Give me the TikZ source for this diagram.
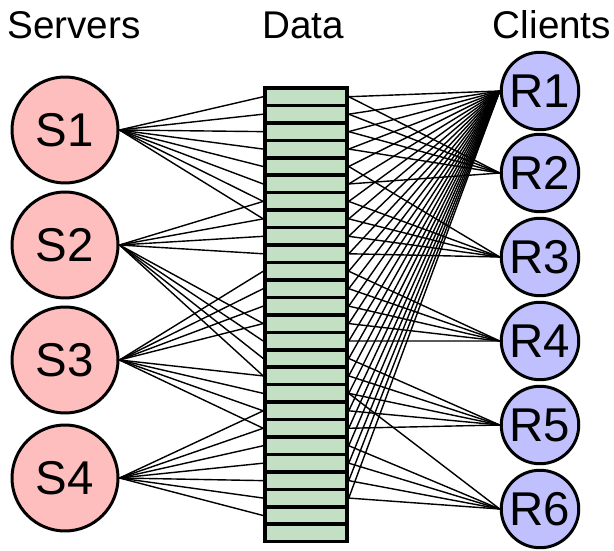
\documentclass[tikz,border=0pt]{standalone}
\usepackage{fontspec}
\setmainfont{Liberation Sans}
\definecolor{serverfill}{RGB}{255,190,190}
\definecolor{clientfill}{RGB}{192,192,255}
\definecolor{datafill}{RGB}{196,224,196}
\begin{document}
\begin{tikzpicture}[x=0.02cm, y=-0.02cm,
    server/.style={draw, circle, fill=serverfill, line width=1.7pt, minimum size=2.12cm, inner sep=0pt, font=\fontsize{27}{27}\selectfont},
    client/.style={draw, circle, fill=clientfill, line width=1.7pt, minimum size=1.55cm, inner sep=0pt, font=\fontsize{27}{27}\selectfont},
    cell/.style={draw, rectangle, fill=datafill, line width=2pt, minimum width=1.64cm, minimum height=0.349cm, inner sep=0pt},
    title/.style={font=\fontsize{22}{22}\selectfont},
    link/.style={line width=0.8pt}]
    \useasboundingbox (0,0) rectangle (614,550);

    % Column titles
    \node[title] (tserv) at (74,25) {Servers};
    \node[title] (tdata) at (303,25) {Data};
    \node[title] (tclie) at (552,25) {Clients};

    % Data blocks
    \foreach \i in {0,...,25}
        \node[cell] (d\i) at (306,{88+17.45*(\i+0.5)}) {};

    % Servers
    \node[server] (s1) at (65,130) {S1};
    \node[server] (s2) at (65,245) {S2};
    \node[server] (s3) at (65,360) {S3};
    \node[server] (s4) at (65,478) {S4};

    % Clients
    \node[client] (r1) at (540,91) {R1};
    \node[client] (r2) at (540,173) {R2};
    \node[client] (r3) at (540,257) {R3};
    \node[client] (r4) at (540,341) {R4};
    \node[client] (r5) at (540,425) {R5};
    \node[client] (r6) at (540,509) {R6};

    % Servers to data
    \foreach \s/\cells in {1/{0,1,2,3,4,5,6,7}, 2/{6,7,8,9,13,14,15,16},
                           3/{10,11,12,13,16,17,18,19}, 4/{18,19,20,21,22,23,24}}
        \foreach \c in \cells
            \draw[link] (s\s.east) -- (d\c.west);

    % Data to clients
    \foreach \r/\cells in {1/{0,1,...,23}, 2/{0,1,2,3,5}, 3/{4,6,7,8,9},
                           4/{10,11,12,13,14}, 5/{15,16,17,18,19}, 6/{17,20,21,22,23}}
        \foreach \c in \cells
            \draw[link] (d\c.east) -- (r\r.west);

\end{tikzpicture}
\end{document}
